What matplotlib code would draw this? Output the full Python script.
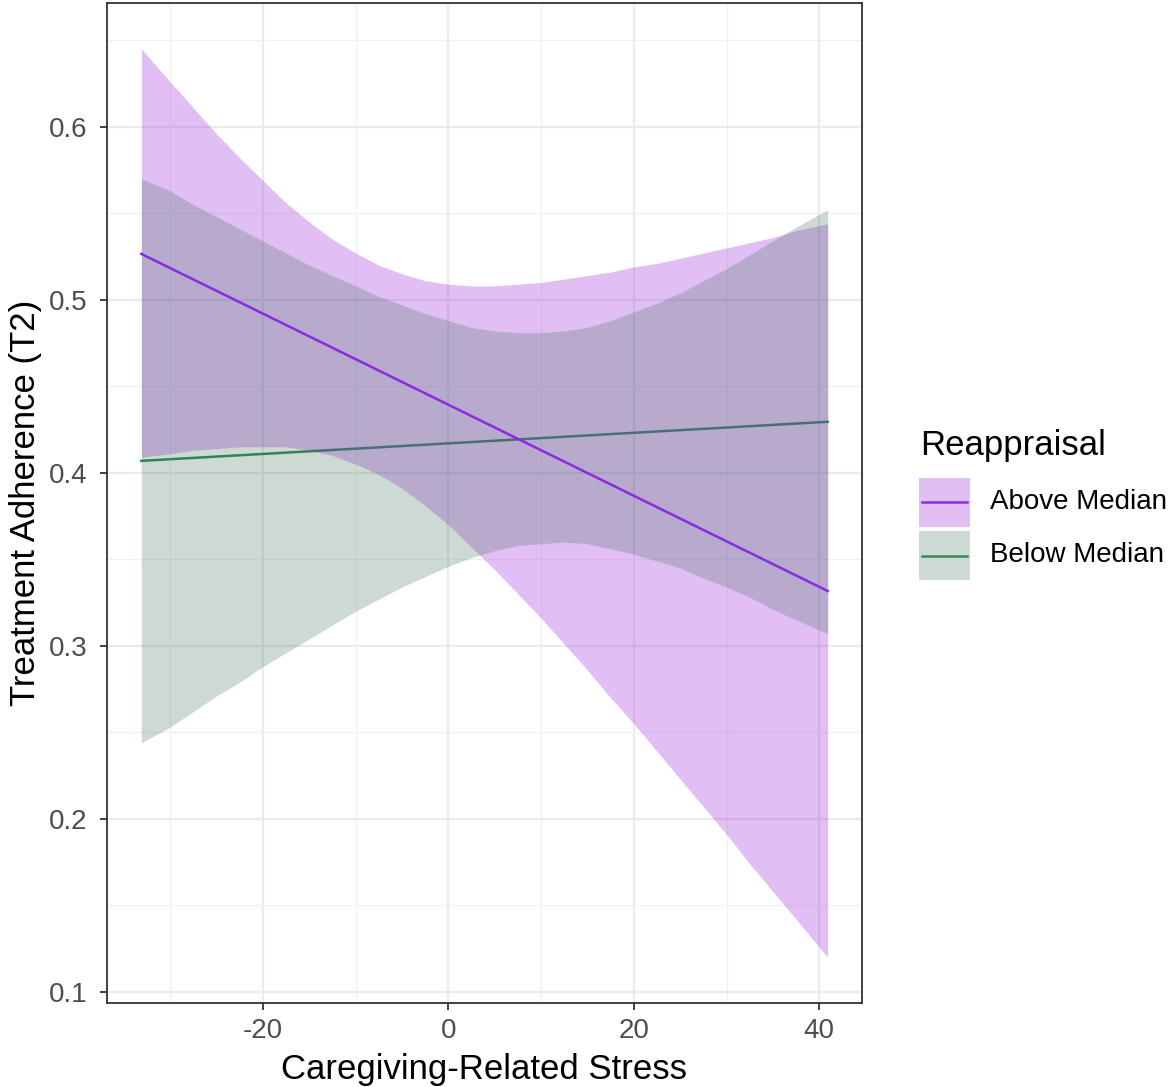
import matplotlib
matplotlib.use("Agg")
import matplotlib.pyplot as plt
from matplotlib.patches import Rectangle
from matplotlib.lines import Line2D
from matplotlib.ticker import MultipleLocator, FormatStrFormatter

plt.rcParams["font.family"] = ["Liberation Sans", "DejaVu Sans"]
plt.rcParams["axes.unicode_minus"] = False

# values
stress_grid = [-33.1, -30, -27.5, -25, -22.5, -20, -17.5, -15, -12.5, -10,
               -7.5, -5, -2.5, 0, 2.5, 5, 7.5, 10, 12.5, 15,
               17.5, 20, 22.5, 25, 27.5, 30, 32.5, 35, 37.5, 40.9]

above_upper = [0.645, 0.626, 0.611, 0.596, 0.582, 0.569, 0.556, 0.545, 0.535, 0.527,
               0.520, 0.515, 0.511, 0.509, 0.508, 0.508, 0.509, 0.510, 0.512, 0.514,
               0.516, 0.519, 0.521, 0.524, 0.527, 0.530, 0.533, 0.536, 0.540, 0.544]
above_lower = [0.409, 0.411, 0.413, 0.414, 0.415, 0.415, 0.415, 0.413, 0.410, 0.405,
               0.399, 0.391, 0.381, 0.370, 0.357, 0.344, 0.330, 0.316, 0.301, 0.286,
               0.270, 0.255, 0.239, 0.223, 0.207, 0.191, 0.174, 0.158, 0.142, 0.120]
below_upper = [0.570, 0.563, 0.555, 0.548, 0.541, 0.534, 0.527, 0.520, 0.514, 0.508,
               0.502, 0.497, 0.492, 0.488, 0.484, 0.482, 0.481, 0.481, 0.482, 0.484,
               0.488, 0.493, 0.498, 0.504, 0.511, 0.518, 0.526, 0.534, 0.542, 0.552]
below_lower = [0.244, 0.253, 0.262, 0.271, 0.279, 0.288, 0.296, 0.304, 0.312, 0.320,
               0.327, 0.334, 0.340, 0.346, 0.351, 0.355, 0.358, 0.359, 0.360, 0.359,
               0.356, 0.353, 0.349, 0.345, 0.339, 0.334, 0.328, 0.321, 0.315, 0.307]

line_x = [-33.1, 40.9]
above_fit = [0.5265, 0.3317]
below_fit = [0.4069, 0.4295]

group_labels = ["Above Median", "Below Median"]
legend_title = "Reappraisal"
x_label = "Caregiving-Related Stress"
y_label = "Treatment Adherence (T2)"

purple = "#8A2BE2"
purple_fill = "#9E2DDE"
green = "#2E8B57"
green_fill = "#3B6E55"
purple_alpha = 0.3
green_alpha = 0.25

W, H = 1172, 1087
fig = plt.figure(figsize=(W / 100, H / 100), dpi=100)
ax = fig.add_axes([107 / W, 1 - 1003 / H, 755 / W, 1000 / H])

ax.plot(line_x, below_fit, color=green, lw=1.8, zorder=2)
ax.fill_between(stress_grid, above_lower, above_upper, color=purple_fill,
                alpha=purple_alpha, lw=0, zorder=3)
ax.fill_between(stress_grid, below_lower, below_upper, color=green_fill,
                alpha=green_alpha, lw=0, zorder=4)
ax.plot(line_x, above_fit, color=purple, lw=1.8, zorder=5)

ax.set_xlim(-36.8, 44.6)
ax.set_ylim(0.0936, 0.6715)
ax.xaxis.set_major_locator(MultipleLocator(20))
ax.xaxis.set_minor_locator(MultipleLocator(10))
ax.yaxis.set_major_locator(MultipleLocator(0.1))
ax.yaxis.set_minor_locator(MultipleLocator(0.05))
ax.yaxis.set_major_formatter(FormatStrFormatter("%.1f"))

ax.grid(which="major", color="#EBEBEB", lw=1.6, zorder=0)
ax.grid(which="minor", color="#F0F0F0", lw=0.9, zorder=0)
ax.set_axisbelow(True)
for s in ax.spines.values():
    s.set_color("#333333")
    s.set_linewidth(1.3)
    s.set_zorder(6)

ax.tick_params(which="major", length=5, width=1.3, color="#333333",
               labelsize=20, labelcolor="#4D4D4D")
ax.tick_params(axis="x", pad=6)
ax.tick_params(axis="y", pad=9)
ax.tick_params(which="minor", length=0)

ax.set_xlabel(x_label, fontsize=25, color="black", labelpad=6)
ax.set_ylabel(y_label, fontsize=25, color="black", labelpad=5)

# legend drawn in figure pixels, ggplot style
fig.text(920 / W, 1 - 445 / H, legend_title, fontsize=25, ha="left", va="center")
key_tops = [478, 531]
key_colors = [(purple_fill, purple_alpha, purple), (green_fill, green_alpha, green)]
for top, (fc, alpha, lc), label in zip(key_tops, key_colors, group_labels):
    fig.add_artist(Rectangle((919 / W, 1 - (top + 49) / H), 51 / W, 49 / H,
                             transform=fig.transFigure, facecolor=fc, alpha=alpha, lw=0))
    yc = 1 - (top + 24.5) / H
    fig.add_artist(Line2D([922 / W, 967 / W], [yc, yc], transform=fig.transFigure,
                          color=lc, lw=1.8))
    fig.text(990 / W, yc, label, fontsize=20, ha="left", va="center", color="black")

fig.savefig("out.png", dpi=100)
